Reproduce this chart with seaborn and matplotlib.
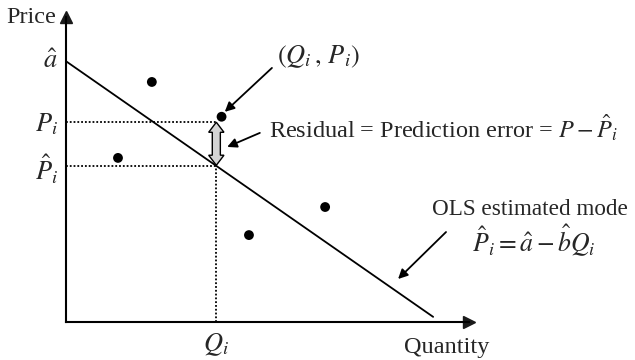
import numpy as np
import pandas as pd
import matplotlib.pyplot as plt
from matplotlib.patches import Polygon
import seaborn as sns

# Datos observados (Q, P)
quantity = [2.13, 3.86, 1.29, 6.43, 4.54]
price = [7.87, 6.73, 5.38, 3.77, 2.85]

# Recta MCO estimada
a_hat = 8.55
b_hat = 0.92
q_end = 9.11

# Punto destacado
q_i = 3.73
p_i = 6.57
p_hat_i = a_hat - b_hat * q_i

sns.set_theme(style='white')
plt.rcParams['font.family'] = ['Liberation Serif', 'DejaVu Serif']
plt.rcParams['mathtext.fontset'] = 'stix'
fs = 17.5   # texto
fm = 19     # etiquetas matemáticas

fig = plt.figure(figsize=(6.35, 3.6), dpi=100)
ax = fig.add_axes([66 / 635, 38 / 360, 403 / 635, 305 / 360])
ax.set_xlim(0, 10)
ax.set_ylim(0, 10)

# Recta estimada
line_q = np.array([0, q_end])
line = pd.DataFrame({'Q': line_q, 'P': a_hat - b_hat * line_q})
sns.lineplot(data=line, x='Q', y='P', color='black', linewidth=1.3, ax=ax)

# Puntos
pts = pd.DataFrame({'Q': quantity, 'P': price})
sns.scatterplot(data=pts, x='Q', y='P', color='black', s=50, edgecolor='none', ax=ax, zorder=5)

# Líneas punteadas
dot_kw = dict(ls=(0, (1, 1.1)), color='black', lw=1.3)
ax.plot([0, q_i], [p_i, p_i], **dot_kw)
ax.plot([0, q_i], [p_hat_i, p_hat_i], **dot_kw)
ax.plot([q_i, q_i], [0, p_hat_i], **dot_kw)

# Flecha doble del residuo
bw, hw, hl = 0.1, 0.19, 0.33
top, bot = p_i - 0.02, p_hat_i + 0.02
verts = [(q_i, top), (q_i + hw, top - hl), (q_i + bw, top - hl),
         (q_i + bw, bot + hl), (q_i + hw, bot + hl), (q_i, bot),
         (q_i - hw, bot + hl), (q_i - bw, bot + hl), (q_i - bw, top - hl),
         (q_i - hw, top - hl)]
ax.add_patch(Polygon(verts, closed=True, facecolor='#d4d4d4', edgecolor='black', lw=1, zorder=4))

# Ejes
for s in ['top', 'right']:
    ax.spines[s].set_visible(False)
for s in ['left', 'bottom']:
    ax.spines[s].set_color('black')
    ax.spines[s].set_linewidth(1.5)
ax.set_xticks([])
ax.set_yticks([])
ax.set_xlabel('')
ax.set_ylabel('')
ax.plot(1, 0, '>k', ms=8, transform=ax.get_yaxis_transform(), clip_on=False)
ax.plot(0, 1, '^k', ms=8, transform=ax.get_xaxis_transform(), clip_on=False)

# Etiquetas
ax.text(-0.25, 9.8, 'Price', ha='right', va='baseline', fontsize=fs, clip_on=False)
ax.text(9.45, -0.5, 'Quantity', ha='center', va='top', fontsize=fs, clip_on=False)
ax.text(-0.2, a_hat, r'$\hat{a}$', ha='right', va='center', fontsize=fm, clip_on=False)
ax.text(-0.2, p_i - 0.1, r'$P_i$', ha='right', va='center', fontsize=fm, clip_on=False)
ax.text(-0.2, p_hat_i - 0.1, r'$\hat{P}_i$', ha='right', va='center', fontsize=fm, clip_on=False)
ax.text(q_i, -0.3, r'$Q_i$', ha='center', va='top', fontsize=fm, clip_on=False)

ax.text(5.24, 8.69, r'$(Q_i\,,\,P_i)$', ha='left', va='center', fontsize=fm, clip_on=False)
ax.text(5.04, 6.03, r'Residual = Prediction error = $P - \hat{P}_i$', ha='left', va='baseline',
        fontsize=fs, clip_on=False)
ax.text(9.08, 3.51, 'OLS estimated mode', ha='left', va='baseline', fontsize=16.7, clip_on=False)
ax.text(10.07, 2.30, r'$\hat{P}_i = \hat{a} - \hat{b}Q_i$', ha='left', va='baseline', fontsize=fm - 0.5,
        clip_on=False)

arrow_kw = dict(arrowstyle='-|>', color='black', lw=1.3, mutation_scale=14, shrinkA=0, shrinkB=0)
ax.annotate('', xy=(3.94, 6.89), xytext=(5.11, 8.33), arrowprops=arrow_kw)
ax.annotate('', xy=(4.0, 5.74), xytext=(4.81, 6.20), arrowprops=arrow_kw)
ax.annotate('', xy=(8.24, 1.41), xytext=(9.43, 2.95), arrowprops=arrow_kw)

fig.savefig('out.png', dpi=100)
